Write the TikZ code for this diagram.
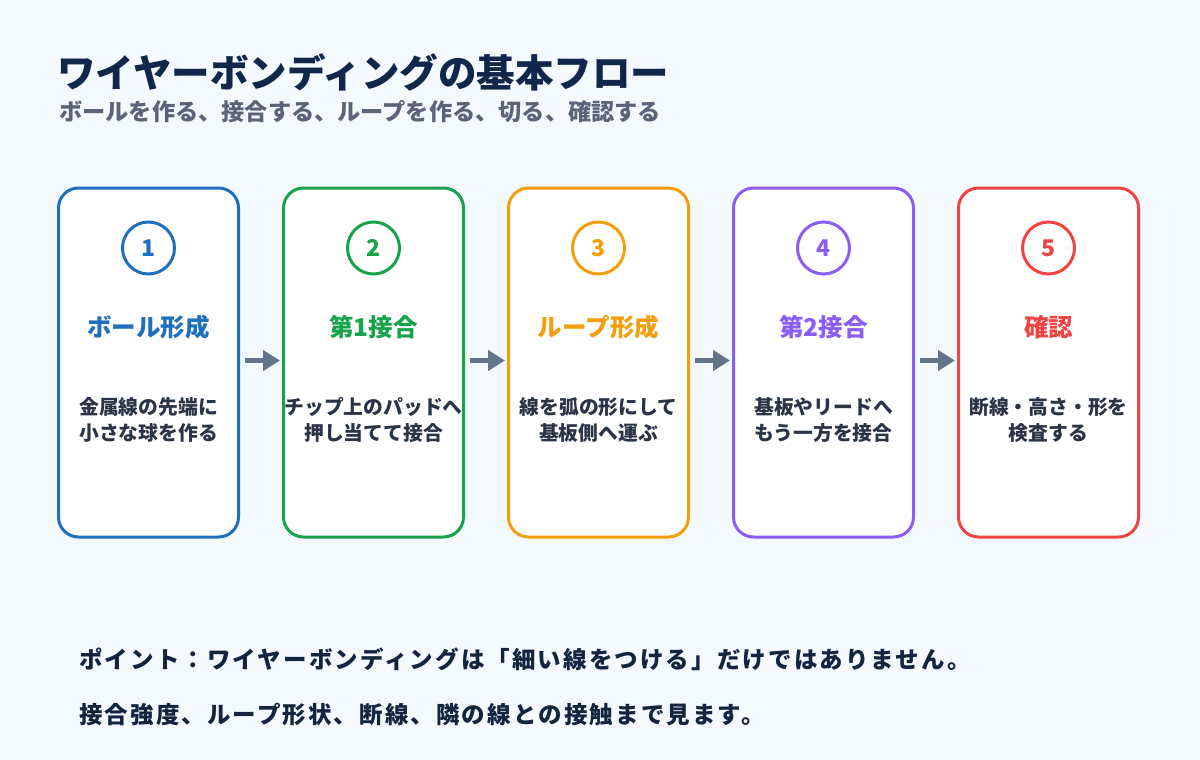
\documentclass[tikz,border=0pt]{standalone}
\usepackage{fontspec}
\setmainfont{Noto Sans CJK JP}
\newfontfamily\ptfont[LetterSpace=9]{Noto Sans CJK JP}
\usetikzlibrary{arrows.meta}
\definecolor{bg}{HTML}{F3F9FD}
\definecolor{cA}{HTML}{1F6FBF}
\definecolor{cB}{HTML}{17A34A}
\definecolor{cC}{HTML}{F59E0B}
\definecolor{cD}{HTML}{8B5CF6}
\definecolor{cE}{HTML}{EF4444}
\definecolor{titlec}{HTML}{10264A}
\definecolor{subc}{HTML}{5A6478}
\definecolor{descc}{HTML}{2A3447}
\definecolor{botc}{HTML}{13243F}
\definecolor{arrc}{HTML}{64748B}
\tikzset{
  stepbox/.style={draw, line width=3pt, fill=white, rounded corners=20pt, minimum width=180pt, minimum height=349pt, inner sep=0pt},
  numc/.style={circle, draw, line width=3pt, fill=white, minimum size=52pt, inner sep=0pt, font=\bfseries\fontsize{23}{23}\selectfont},
  head/.style={anchor=base, inner sep=0pt, font=\bfseries\fontsize{24.5}{24.5}\selectfont},
  desc/.style={align=center, inner sep=0pt, text=descc, font=\bfseries\fontsize{19.8}{26}\selectfont},
  flow/.style={draw=arrc, line width=5pt, -{Triangle[length=17pt,width=20pt]}},
}
\begin{document}
\begin{tikzpicture}[x=1pt,y=-1pt]
\fill[bg] (0,0) rectangle (1200,760);
\useasboundingbox (0,0) rectangle (1200,760);
\node[anchor=base west, inner sep=0pt, text=titlec, font=\bfseries\fontsize{38.5}{38.5}\selectfont] (title) at (57,88) {ワイヤーボンディングの基本フロー};
\node[anchor=base west, inner sep=0pt, text=subc, font=\bfseries\fontsize{23.2}{23.2}\selectfont] (sub) at (59,120) {ボールを作る、接合する、ループを作る、切る、確認する};
% boxes
\node[stepbox, draw=cA] (b1) at (148.5,362.5) {};
\node[stepbox, draw=cB] (b2) at (373.5,362.5) {};
\node[stepbox, draw=cC] (b3) at (598.5,362.5) {};
\node[stepbox, draw=cD] (b4) at (823.5,362.5) {};
\node[stepbox, draw=cE] (b5) at (1048.5,362.5) {};
% numbers
\node[numc, draw=cA, text=cA] (n1) at (148.5,248) {1};
\node[numc, draw=cB, text=cB] (n2) at (373.5,248) {2};
\node[numc, draw=cC, text=cC] (n3) at (598.5,248) {3};
\node[numc, draw=cD, text=cD] (n4) at (823.5,248) {4};
\node[numc, draw=cE, text=cE] (n5) at (1048.5,248) {5};
% headings
\node[head, text=cA] (h1) at (148.5,336) {ボール形成};
\node[head, text=cB] (h2) at (373.5,336) {第1接合};
\node[head, text=cC] (h3) at (598.5,336) {ループ形成};
\node[head, text=cD] (h4) at (823.5,336) {第2接合};
\node[head, text=cE] (h5) at (1048.5,336) {確認};
% descriptions
\node[desc] (d1) at (148.5,420) {金属線の先端に\\小さな球を作る};
\node[desc] (d2) at (373.5,420) {チップ上のパッドへ\\押し当てて接合};
\node[desc] (d3) at (598.5,420) {線を弧の形にして\\基板側へ運ぶ};
\node[desc] (d4) at (823.5,420) {基板やリードへ\\もう一方を接合};
\node[desc] (d5) at (1048.5,420) {断線・高さ・形を\\検査する};
% arrows
\draw[flow] ([xshift=5pt,yshift=2pt]b1.east) -- ([xshift=-2pt,yshift=2pt]b2.west);
\draw[flow] ([xshift=5pt,yshift=2pt]b2.east) -- ([xshift=-2pt,yshift=2pt]b3.west);
\draw[flow] ([xshift=5pt,yshift=2pt]b3.east) -- ([xshift=-2pt,yshift=2pt]b4.west);
\draw[flow] ([xshift=5pt,yshift=2pt]b4.east) -- ([xshift=-2pt,yshift=2pt]b5.west);
% bottom
\node[anchor=base west, inner sep=0pt, text=botc, font=\ptfont\bfseries\fontsize{23.5}{23.5}\selectfont] (p1) at (79,668) {ポイント：ワイヤーボンディングは「細い線をつける」だけではありません。};
\node[anchor=base west, inner sep=0pt, text=botc, font=\ptfont\bfseries\fontsize{23.5}{23.5}\selectfont] (p2) at (79,723) {接合強度、ループ形状、断線、隣の線との接触まで見ます。};
\end{tikzpicture}
\end{document}
